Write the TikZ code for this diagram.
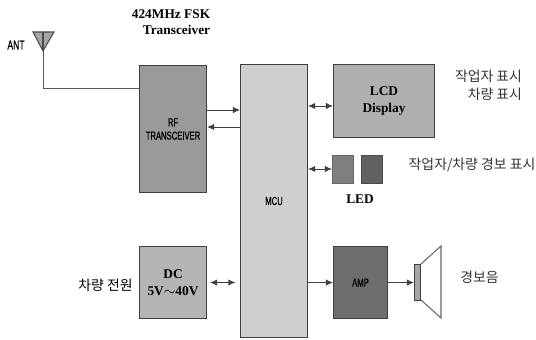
\documentclass[tikz,border=0pt]{standalone}
\usepackage{fontspec}
\setmainfont{Liberation Serif}
\setsansfont{Liberation Sans}
\newfontfamily\kofont{Noto Sans CJK KR}
\newfontfamily\narrowfont[FakeStretch=0.66,FakeBold=0.6]{Liberation Sans}
\usetikzlibrary{arrows.meta,positioning}
\definecolor{rfgray}{HTML}{9A9A9A}
\definecolor{mcugray}{HTML}{CFCFCF}
\definecolor{lcdgray}{HTML}{B0B0B0}
\definecolor{dcgray}{HTML}{B4B4B4}
\definecolor{ampgray}{HTML}{6E6E6E}
\tikzset{
  unitbox/.style={draw=black!75,line width=.6pt,anchor=north west,inner sep=0pt,align=center,font=\narrowfont\fontsize{6.6}{7.6}\selectfont},
  boldbox/.style={unitbox,font=\bfseries\fontsize{7.6}{9.6}\selectfont},
  kolabel/.style={font=\kofont\fontsize{7.9}{10.2}\selectfont,text=black!80,inner sep=0pt,align=right},
  link/.style={draw=black!75,line width=.5pt,-{Latex[length=4pt,width=3.6pt]}},
  twolink/.style={draw=black!75,line width=.5pt,{Latex[length=4pt,width=3.6pt]}-{Latex[length=4pt,width=3.6pt]}}
}
\begin{document}
\begin{tikzpicture}[x=0.02cm,y=-0.02cm]
\useasboundingbox (0,0) rectangle (536,340);
% blocks
\node[unitbox,fill=rfgray,minimum width=1.34cm,minimum height=2.54cm] (rf) at (139,65){RF\\TRANSCEIVER};
\node[unitbox,fill=mcugray,minimum width=1.34cm,minimum height=5.46cm] (mcu) at (240,64){MCU};
\node[boldbox,fill=lcdgray,minimum width=2.02cm,minimum height=1.46cm] (lcd) at (333,64){LCD\\Display};
\node[boldbox,fill=dcgray,minimum width=1.34cm,minimum height=1.44cm] (dc) at (139,246){DC\\5V$\sim$40V};
\node[unitbox,fill=ampgray,minimum width=1.08cm,minimum height=1.44cm] (amp) at (333,246){AMP};
\node[unitbox,fill=black!50,draw=black!60,minimum width=.42cm,minimum height=.56cm] (ledone) at (332,155){};
\node[unitbox,fill=black!62,draw=black!70,minimum width=.42cm,minimum height=.56cm] (ledtwo) at (361,155){};
\node[unitbox,fill=black!35,minimum width=.12cm,minimum height=.72cm] (horn) at (414,264){};
% speaker cone
\draw[black!60,line width=.6pt] (421,264)--(441,246)--(441,318)--(421,300);
% antenna
\coordinate (anttip) at (43,51);
\fill[black!35] (33,32)--(54,32)--(43,51)--cycle;
\draw[black!70,line width=.6pt] (33,32)--(54,32)--(43,51)--cycle;
\draw[black!70,line width=.6pt] (43,32)--(anttip);
\draw[black!65,line width=.5pt] (anttip)|-(rf.west|-0,88);
% links
\draw[link] (rf.east|-0,110)--(mcu.west|-0,110);
\draw[link] (mcu.west|-0,127)--(rf.east|-0,127);
\draw[twolink] (mcu.east|-0,106)--(lcd.west|-0,106);
\draw[twolink] (mcu.east|-0,169)--(ledone.west|-0,169);
\draw[twolink] ([xshift=1.7pt]dc.east)--([xshift=-2.6pt]dc.east-|mcu.west);
\draw[link] (mcu.east|-amp.west)--(amp.west);
\draw[link] (amp.east)--(horn.west);
% labels
\node[font=\bfseries\fontsize{7.6}{9.4}\selectfont,align=right,inner sep=0pt] (fsk) at (171,22){424MHz FSK\\Transceiver};
\node[font=\narrowfont\fontsize{7.4}{8}\selectfont,inner sep=0pt] (ant) at (16,45){ANT};
\node[font=\bfseries\fontsize{7.6}{9}\selectfont,inner sep=0pt] (led) at (360,199){LED};
\node[kolabel] (opshow) at (488.5,85){작업자 표시\\차량 표시};
\node[kolabel] (alarmshow) at (472,165){작업자/차량 경보 표시};
\node[kolabel,text=black] (power) at (105.5,285){차량 전원};
\node[kolabel] (sound) at (479.5,277){경보음};
\end{tikzpicture}
\end{document}
